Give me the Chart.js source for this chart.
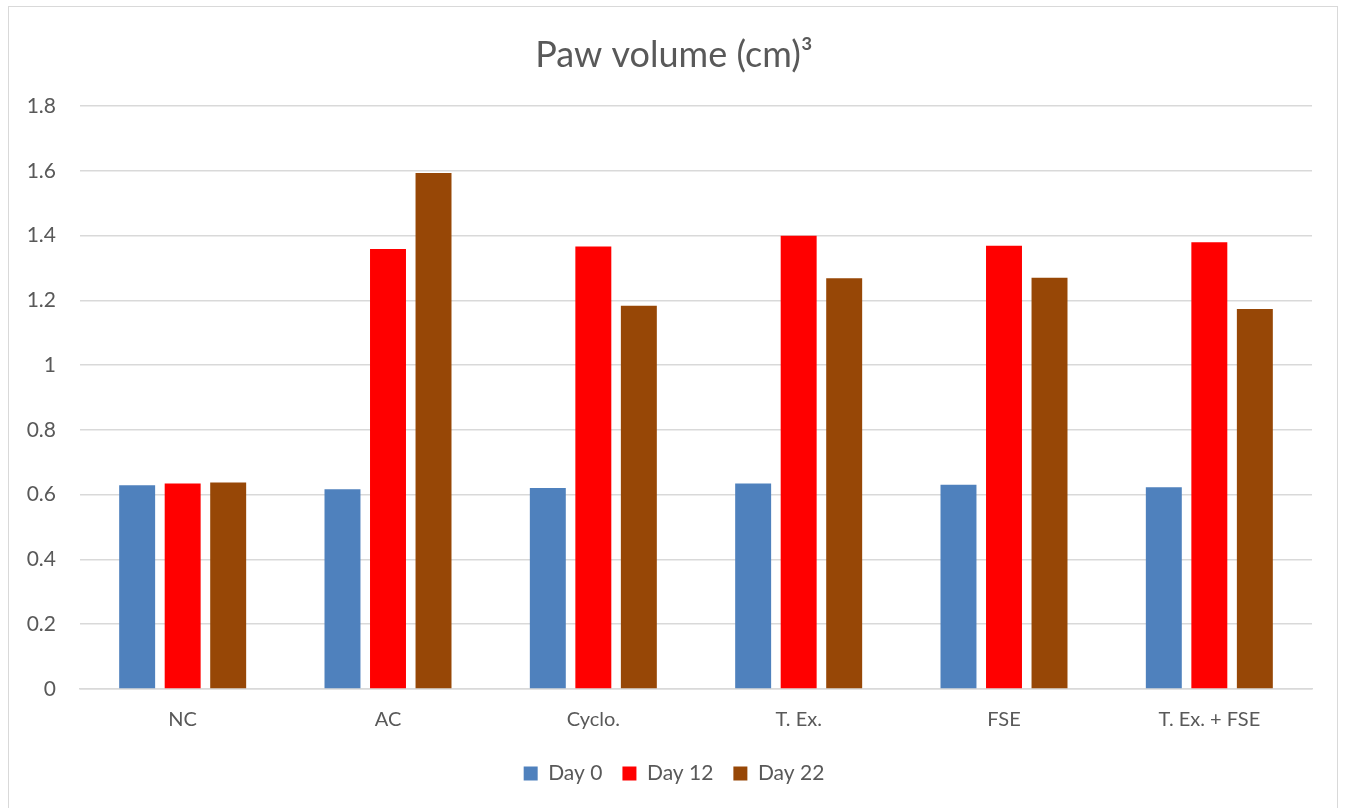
<!DOCTYPE html>
<html>
<head>
<meta charset="utf-8">
<script src="https://cdn.jsdelivr.net/npm/chart.js@4"></script>
<style>
html,body{margin:0;padding:0;background:#fff;}
#wrap{position:absolute;left:0;top:0;width:1348px;height:808px;}
#frame{position:absolute;left:8px;top:6px;width:1330px;height:820px;border:1.5px solid #D9D9D9;box-sizing:border-box;pointer-events:none;}
</style>
</head>
<body>
<div id="wrap"><canvas id="c" width="1348" height="808"></canvas></div>
<div id="frame"></div>
<script>
const categories = ["NC", "AC", "Cyclo.", "T. Ex.", "FSE", "T. Ex. + FSE"];
const day0 = [0.629, 0.617, 0.621, 0.635, 0.631, 0.623];
const day12 = [0.635, 1.359, 1.367, 1.400, 1.369, 1.380];
const day22 = [0.638, 1.594, 1.184, 1.269, 1.270, 1.174];
const seriesNames = ["Day 0", "Day 12", "Day 22"];
const yTicks = [0, 0.2, 0.4, 0.6, 0.8, 1, 1.2, 1.4, 1.6, 1.8];

const textColor = "#595959";
const gridColor = "#D9D9D9";
const FONT = "Lato, Carlito, Calibri, 'Open Sans', sans-serif";

new Chart(document.getElementById("c"), {
  type: "bar",
  data: {
    labels: categories,
    datasets: [
      {label: seriesNames[0], data: day0, backgroundColor: "#4F81BD"},
      {label: seriesNames[1], data: day12, backgroundColor: "#FF0000"},
      {label: seriesNames[2], data: day22, backgroundColor: "#974706"}
    ]
  },
  options: {
    responsive: false,
    animation: false,
    devicePixelRatio: 1,
    datasets: {bar: {categoryPercentage: 0.665, barPercentage: 0.79}},
    layout: {padding: {left: 0, right: 0, top: 0, bottom: 14}},
    plugins: {
      title: {
        display: true,
        text: "Paw volume (cm)³",
        color: textColor,
        font: {family: FONT, size: 36, weight: "normal"},
        padding: {top: 34, bottom: 29}
      },
      legend: {
        position: "bottom",
        labels: {
          color: textColor,
          font: {family: FONT, size: 21},
          boxWidth: 14,
          boxHeight: 14,
          padding: 20
        }
      },
      tooltip: {enabled: false}
    },
    scales: {
      x: {
        grid: {display: false, drawTicks: false},
        border: {display: true, color: gridColor, width: 1.5},
        ticks: {color: textColor, font: {family: FONT, size: 20}, padding: 19},
        afterFit: (s) => { s.height = 54; }
      },
      y: {
        min: 0, max: 1.8,
        afterBuildTicks: (s) => { s.ticks = yTicks.map(v => ({value: v})); },
        grid: {color: gridColor, lineWidth: 1.5, drawTicks: false},
        border: {display: false},
        ticks: {color: textColor, font: {family: FONT, size: 21}, padding: 24,
                callback: (v) => String(v)},
        afterFit: (s) => { s.width = 80; }
      },
      spacer: {
        type: "linear",
        position: "right",
        grid: {display: false, drawTicks: false},
        border: {display: false},
        ticks: {display: false},
        afterFit: (s) => { s.width = 36; }
      }
    }
  }
});
</script>
</body>
</html>
